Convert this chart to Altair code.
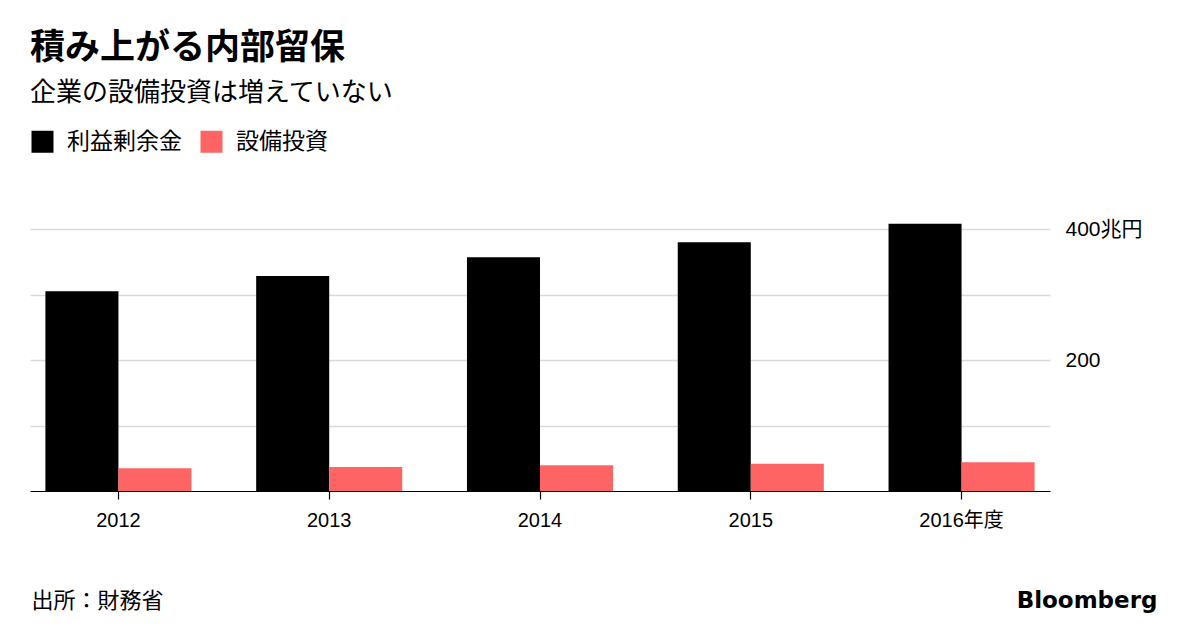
import altair as alt
import pandas as pd

years = ["2012", "2013", "2014", "2015", "2016年度"]
series_names = ["利益剰余金", "設備投資"]
retained = [305, 328.5, 357, 380, 408]
capex = [34.6, 36.6, 39.2, 41.5, 44]
colors = ["#000000", "#ff6464"]

rows = []
for y, r, c in zip(years, retained, capex):
    rows.append({"year": y, "series": series_names[0], "value": r})
    rows.append({"year": y, "series": series_names[1], "value": c})
df = pd.DataFrame(rows)

FONT = "Liberation Sans, Noto Sans CJK JP, sans-serif"
CJK = "Noto Sans CJK JP, sans-serif"

chart = alt.Chart(df).mark_bar().encode(
    x=alt.X(
        "year:N",
        sort=years,
        scale=alt.Scale(paddingInner=0.307, paddingOuter=0.073),
        axis=alt.Axis(
            title="出所：財務省",
            titleFont=CJK,
            titleFontSize=22,
            titleFontWeight="normal",
            titleColor="#000000",
            titleAnchor="start",
            titleAlign="left",
            titleBaseline="alphabetic",
            titleX=1,
            titleY=116,
            labelAngle=0,
            labelFont=FONT,
            labelFontSize=20,
            labelColor="#000000",
            labelPadding=11,
            domainColor="#000000",
            domainWidth=1.2,
            tickColor="#000000",
            tickSize=8,
            tickWidth=1.2,
            grid=False,
        ),
    ),
    xOffset=alt.XOffset("series:N", sort=series_names),
    y=alt.Y(
        "value:Q",
        scale=alt.Scale(domain=[0, 420], nice=False),
        axis=alt.Axis(
            orient="right",
            values=[100, 200, 300, 400],
            labelExpr="datum.value == 400 ? '400兆円' : (datum.value == 200 ? '200' : '')",
            labelFont=FONT,
            labelFontSize=21,
            labelColor="#000000",
            labelPadding=15,
            domain=False,
            ticks=False,
            grid=True,
            gridColor="#d9d9d9",
            gridWidth=1.5,
            title="Bloomberg",
            titleFont="DejaVu Sans",
            titleFontSize=23,
            titleFontWeight="bold",
            titleColor="#000000",
            titleAngle=0,
            titleAlign="right",
            titleBaseline="alphabetic",
            titleX=107,
            titleY=391,
        ),
    ),
    color=alt.Color(
        "series:N",
        sort=series_names,
        scale=alt.Scale(domain=series_names, range=colors),
        legend=alt.Legend(
            title=None,
            orient="none",
            legendX=1,
            legendY=-86,
            direction="horizontal",
            symbolType="square",
            symbolSize=484,
            symbolStrokeWidth=0,
            symbolOpacity=1,
            labelFont=CJK,
            labelFontSize=23,
            labelColor="#000000",
            labelOffset=13,
            columnPadding=18,
        ),
    ),
).properties(
    width=1020,
    height=275,
    background="#ffffff",
    padding={"left": 22, "top": 208, "right": 142, "bottom": 135},
    autosize=alt.AutoSizeParams(type="none"),
    title=alt.TitleParams(
        text="積み上がる内部留保",
        subtitle="企業の設備投資は増えていない",
        anchor="start",
        frame="group",
        font=CJK,
        fontSize=35,
        fontWeight="bold",
        color="#000000",
        subtitleFont=CJK,
        subtitleFontSize=26,
        subtitleColor="#000000",
        subtitlePadding=14,
        offset=24,
    ),
).configure_view(strokeWidth=0, stroke=None)

chart.save("out.html", embed_options={"renderer": "svg", "actions": False})
